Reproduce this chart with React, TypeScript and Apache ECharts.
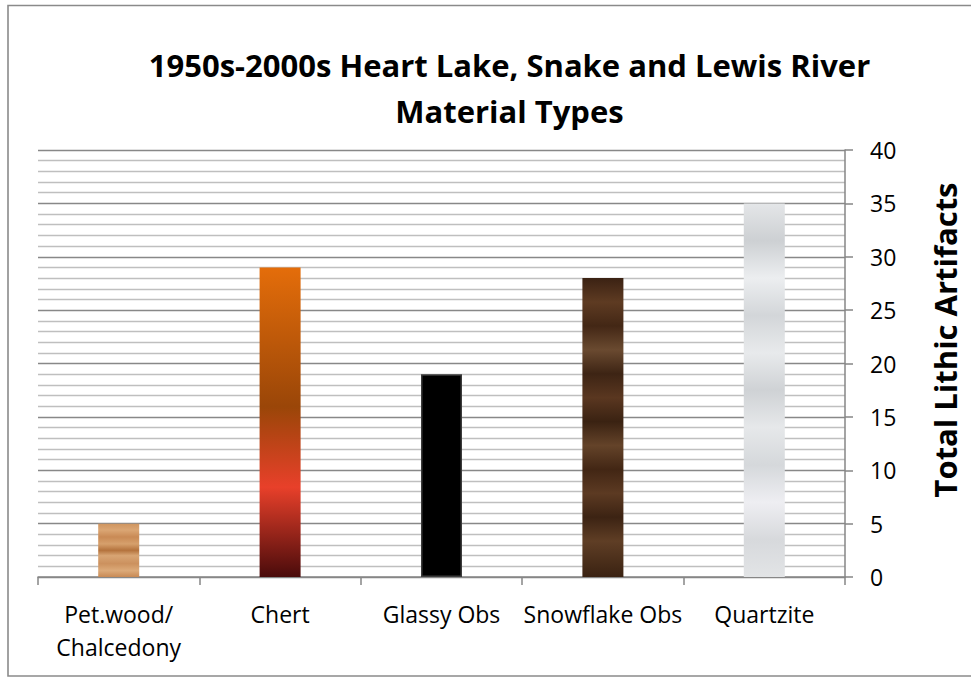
import React, { useEffect, useRef } from "react";
import * as echarts from "echarts";

const categories = ["Pet.wood/\nChalcedony", "Chert", "Glassy Obs", "Snowflake Obs", "Quartzite"];
const values = [5, 29, 19, 28, 35];
const titleLines = ["1950s-2000s Heart Lake, Snake and Lewis River", "Material Types"];
const axisTitle = "Total Lithic Artifacts";
const yMin = 0;
const yMax = 40;
const yStep = 5;

const FONT = "'Open Sans', 'Noto Sans', sans-serif";

const vgrad = (stops: [number, string][]) =>
  new echarts.graphic.LinearGradient(0, 0, 0, 1, stops.map(([offset, color]) => ({ offset, color })));

const barStyles = [
  {
    color: vgrad([
      [0, "#cf955f"], [0.12, "#dba674"], [0.25, "#c98a55"], [0.38, "#d6a06c"],
      [0.5, "#b4733d"], [0.6, "#d8a574"], [0.75, "#cc915e"], [0.88, "#dcaa79"], [1, "#c88a55"],
    ]),
  },
  {
    color: vgrad([
      [0, "#e46d0a"], [0.45, "#9a4608"], [0.71, "#e8402a"], [1, "#4a0b0b"],
    ]),
  },
  { color: "#000000", borderColor: "#3c3c3c", borderWidth: 1.5 },
  {
    color: vgrad([
      [0, "#3b2213"], [0.08, "#5e3b22"], [0.16, "#432715"], [0.24, "#6a4a30"], [0.32, "#3d2414"],
      [0.4, "#5a3720"], [0.48, "#3a2212"], [0.56, "#644329"], [0.64, "#422614"], [0.72, "#5c3a22"],
      [0.8, "#3c2313"], [0.88, "#5f3e25"], [1, "#3a2212"],
    ]),
  },
  {
    color: vgrad([
      [0, "#e4e6e8"], [0.1, "#cdd0d3"], [0.2, "#eceef0"], [0.3, "#d3d6d9"], [0.4, "#e8eaec"],
      [0.5, "#cfd2d5"], [0.6, "#e6e8ea"], [0.7, "#d5d8db"], [0.8, "#eeeef2"], [0.9, "#d7d9dc"], [1, "#e2e4e6"],
    ]),
  },
];

export default function App() {
  const ref = useRef<HTMLDivElement>(null);
  useEffect(() => {
    if (!ref.current) return;
    const chart = echarts.init(ref.current, undefined, { renderer: "svg" });
    chart.setOption({
      animation: false,
      backgroundColor: "#ffffff",
      grid: { left: 38, right: 126, top: 150, bottom: 100, containLabel: false },
      graphic: [
        {
          type: "rect",
          shape: { x: 8, y: 5.5, width: 1000, height: 670.5 },
          style: { fill: "none", stroke: "#8a8a8a", lineWidth: 1.6 },
          silent: true,
        },
        {
          type: "text",
          x: 509.5,
          y: 88,
          style: {
            text: titleLines.join("\n"),
            font: `bold 31px ${FONT}`,
            fill: "#000000",
            align: "center",
            verticalAlign: "middle",
            lineHeight: 46,
          },
        },
        {
          type: "text",
          x: 945,
          y: 340,
          rotation: Math.PI / 2,
          style: {
            text: axisTitle,
            font: `bold 31px ${FONT}`,
            fill: "#000000",
            align: "center",
            verticalAlign: "middle",
          },
        },
      ],
      xAxis: {
        type: "category",
        data: categories,
        boundaryGap: true,
        axisLine: { show: true, lineStyle: { color: "#868686", width: 1.5 } },
        axisTick: { show: true, length: 8, lineStyle: { color: "#868686", width: 1.5 } },
        axisLabel: {
          interval: 0,
          margin: 20,
          color: "#000000",
          fontFamily: FONT,
          fontSize: 23,
          lineHeight: 33,
        },
        splitLine: { show: false },
      },
      yAxis: {
        type: "value",
        position: "right",
        min: yMin,
        max: yMax,
        interval: yStep,
        axisLine: { show: true, lineStyle: { color: "#868686", width: 1.5 } },
        axisTick: { show: true, inside: false, length: 8, lineStyle: { color: "#868686", width: 1.5 } },
        axisLabel: {
          margin: 25,
          color: "#000000",
          fontFamily: FONT,
          fontSize: 23,
        },
        splitLine: { show: true, lineStyle: { color: "#888888", width: 1.4 } },
        minorTick: { show: false, splitNumber: 5 },
        minorSplitLine: { show: true, lineStyle: { color: "#bfbfbf", width: 1.4 } },
      },
      series: [
        {
          type: "bar",
          barWidth: 41,
          data: values.map((v, i) => ({ value: v, itemStyle: barStyles[i] })),
        },
      ],
    });
    return () => chart.dispose();
  }, []);
  return (
    <div
      ref={ref}
      style={{ position: "fixed", left: 0, top: 0, width: 971, height: 677, background: "#fff" }}
    />
  );
}
